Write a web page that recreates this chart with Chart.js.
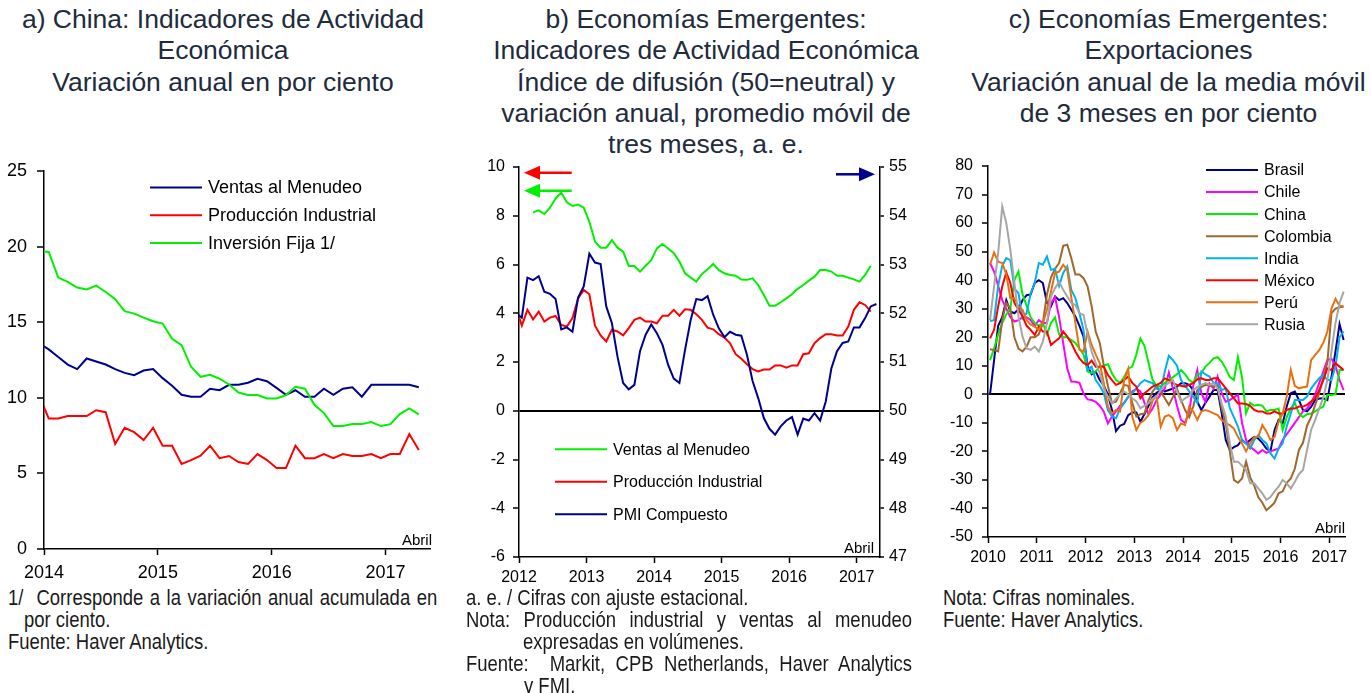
<!DOCTYPE html>
<html lang="es">
<head>
<meta charset="utf-8">
<title>China y Economías Emergentes: actividad y exportaciones</title>
<script src="https://cdn.jsdelivr.net/npm/chart.js@4.4.1/dist/chart.umd.min.js"></script>
<style>
  html, body { margin: 0; padding: 0; background: #fff; }
  body { width: 1371px; height: 693px; position: relative; overflow: hidden;
         font-family: "Liberation Sans", Arial, sans-serif; }
  canvas { position: absolute; }
  .title { position: absolute; top: 4px; text-align: center; font-size: 26.5px;
           line-height: 31.3px; color: #222b3c; white-space: nowrap; }
  .note { position: absolute; font-size: 22px; line-height: 22px; color: #1a1a1a;
          transform: scaleX(0.84); transform-origin: 0 0; white-space: nowrap; }
  .note.just { white-space: normal; text-align: justify; text-align-last: justify; }
</style>
</head>
<body>

<div class="title" style="left:0; width:446px;">a) China: Indicadores de Actividad<br>Económica<br>Variación anual en por ciento</div>
<div class="title" style="left:486px; width:440px;">b) Economías Emergentes:<br>Indicadores de Actividad Económica<br>Índice de difusión (50=neutral) y<br>variación anual, promedio móvil de<br>tres meses, a. e.</div>
<div class="title" style="left:966px; width:405px;">c) Economías Emergentes:<br>Exportaciones<br>Variación anual de la media móvil<br>de 3 meses en por ciento</div>

<canvas id="chartA" width="440" height="420" style="left:0; top:160px;"></canvas>
<canvas id="chartB" width="440" height="435" style="left:470px; top:155px;"></canvas>
<canvas id="chartC" width="441" height="415" style="left:930px; top:155px;"></canvas>

<div class="note just" style="left:8px; top:587px; width:511px;">1/&nbsp; Corresponde a la variación anual acumulada en</div>
<div class="note" style="left:24px; top:609px;">por ciento.</div>
<div class="note" style="left:8px; top:631px;">Fuente: Haver Analytics.</div>

<div class="note" style="left:466px; top:587px;">a. e. / Cifras con ajuste estacional.</div>
<div class="note just" style="left:466px; top:609px; width:531px;">Nota: Producción industrial y ventas al menudeo</div>
<div class="note" style="left:523px; top:631px;">expresadas en volúmenes.</div>
<div class="note just" style="left:466px; top:653px; width:531px;">Fuente:&nbsp; Markit, CPB Netherlands, Haver Analytics</div>
<div class="note" style="left:524px; top:675px;">y FMI.</div>

<div class="note" style="left:943px; top:587px;">Nota: Cifras nominales.</div>
<div class="note" style="left:943px; top:609px;">Fuente: Haver Analytics.</div>

<script>
// ------------------------------------------------------------
// a) China: variación anual, dic-2013 a abr-2017 (mensual)
// ------------------------------------------------------------
const A_YEARS = [2014, 2015, 2016, 2017];
const A_FIRST = [2013, 12];
const A_VENTAS = [13.6, 13.2, 12.7, 12.2, 11.9, 12.6, 12.4, 12.2, 11.9, 11.65, 11.5, 11.8, 11.9,
  11.3, 10.8, 10.2, 10.07, 10.07, 10.6, 10.5, 10.86, 10.86, 11.0, 11.26, 11.1,
  10.66, 10.2, 10.5, 10.07, 10.07, 10.6, 10.2, 10.6, 10.7, 10.07, 10.86, 10.86,
  10.86, 10.86, 10.86, 10.7];
const A_PROD = [10.1, 8.63, 8.63, 8.79, 8.79, 8.79, 9.18, 9.05, 6.94, 8.02, 7.73, 7.2, 8.02,
  6.83, 6.83, 5.62, 5.88, 6.17, 6.83, 6.01, 6.15, 5.75, 5.62, 6.28, 5.88,
  5.35, 5.35, 6.83, 6.01, 6.01, 6.28, 6.01, 6.28, 6.15, 6.15, 6.28, 6.01,
  6.28, 6.28, 7.6, 6.54];
const A_INV = [19.7, 19.65, 17.95, 17.67, 17.29, 17.16, 17.42, 17.0, 16.52, 15.73, 15.57, 15.3, 15.06,
  14.91, 13.9, 13.48, 12.05, 11.39, 11.52, 11.26, 10.88, 10.35, 10.18, 10.18, 9.96,
  9.96, 10.18, 10.73, 10.6, 9.54, 8.99, 8.13, 8.13, 8.26, 8.26, 8.39, 8.13,
  8.26, 8.92, 9.3, 8.9];

// ------------------------------------------------------------
// b) Economías emergentes: actividad (eje izq. %, eje der. índice PMI)
// ------------------------------------------------------------
const B_YEARS = [2012, 2013, 2014, 2015, 2016, 2017];
const B_FIRST_VENTAS = [2012, 3];
const B_FIRST_PROD = [2011, 12];
const B_FIRST_PMI = [2011, 12];
const B_VENTAS = [8.14, 8.22, 8.07, 8.33, 8.71, 8.95, 8.55, 8.4, 8.46, 8.33,
  7.75, 6.94, 6.69, 6.69, 7.0, 6.69, 6.53, 5.94, 5.94, 5.71, 5.95, 6.18,
  6.66, 6.84, 6.66, 6.46, 6.12, 5.64, 5.46, 5.3, 5.61, 5.8, 6.02, 5.77,
  5.64, 5.57, 5.54, 5.38, 5.37, 5.43, 5.16, 4.75, 4.31, 4.31, 4.45, 4.61,
  4.78, 5.0, 5.16, 5.34, 5.5, 5.77, 5.77, 5.71, 5.54, 5.54, 5.46, 5.39,
  5.3, 5.57, 5.95];
const B_PROD = [4.2, 3.49, 4.14, 3.75, 4.07, 3.66, 3.82, 3.89, 3.52, 3.45, 3.8, 4.61, 4.96,
  4.78, 3.49, 3.09, 2.84, 3.32, 3.25, 3.09, 3.39, 3.73, 3.82, 3.66, 3.66,
  3.59, 3.9, 3.9, 4.14, 3.9, 4.16, 4.14, 3.96, 3.73, 3.41, 3.34, 3.14,
  3.0, 2.77, 2.32, 2.13, 1.91, 1.71, 1.61, 1.69, 1.69, 1.86, 1.86, 1.77,
  1.86, 1.86, 2.32, 2.36, 2.77, 2.98, 3.14, 3.14, 3.09, 3.09, 3.45, 4.14,
  4.45, 4.34, 4.07];
const B_PMI = [52.0, 51.91, 52.73, 52.68, 52.76, 52.44, 52.40, 52.29, 51.67, 51.71, 51.62, 52.32, 52.55,
  53.22, 53.04, 53.01, 52.14, 51.80, 51.11, 50.57, 50.44, 50.53, 51.22, 51.56, 51.77,
  51.59, 51.35, 50.94, 50.66, 50.57, 51.25, 51.86, 52.29, 52.27, 52.35, 51.97, 51.69,
  51.51, 51.62, 51.56, 51.54, 51.15, 50.61, 50.26, 49.85, 49.63, 49.51, 49.68, 49.80,
  49.87, 49.51, 49.84, 49.80, 49.95, 49.80, 50.19, 50.87, 51.22, 51.39, 51.42, 51.71,
  51.71, 51.90, 52.14, 52.19];

// ------------------------------------------------------------
// c) Economías emergentes: exportaciones, ene-2010 a abr-2017
// ------------------------------------------------------------
const C_YEARS = [2010, 2011, 2012, 2013, 2014, 2015, 2016, 2017];
const C_FIRST = [2010, 1];
const C_BRASIL = [0, 12, 24, 27, 33, 29, 28.4, 29.8, 33, 34.7, 35, 39,
  40, 39, 32, 30.8, 34.3, 33, 33.7, 32, 29.6, 27.3, 24, 20.2,
  10, 7, 8, 5, 3, 0, -5.5, -12.9, -11, -10.4, -7.3, -6.4,
  -6.4, -9.6, -6.9, -4, -1, 0.5, 1.5, 1, 1.5, 2, 2.7, 3.9,
  3.9, 3.3, 1.5, -2.6, -5.5, -3, -0.8, 1.5, 1.5, -6.7, -16, -19.5,
  -18.5, -17.8, -16, -17.2, -16, -14.9, -15.5, -17, -19, -20, -12.5, -9,
  -10.2, -4.3, 0.4, 1, -2, -5.5, -6, -4.4, -2, -1.5, -1.4, -2,
  6, 15, 24.6, 19];
const C_CHILE = [46, 43, 38, 33, 30, 27, 25.5, 26, 27, 27, 26, 24,
  26, 25, 25, 32, 34, 27, 18, 9, 4.5, 4.4, 4, 0.3,
  -1.8, -2, -2.6, -4, -6.1, -10.2, -7.8, -6, -4, -3, -1, 1,
  2, 1, -3, -7, -5, -2, 0, 2, 7.6, 2, -4, -9,
  -10, -6, 3, 8.5, 0.3, -2.6, 3.8, 2, 6.2, 0.3, -2.6, -2,
  -1, -0.2, -10, -16, -18.4, -19.5, -20.7, -19.5, -20.5, -20, -19.5, -19,
  -16, -14, -12, -10, -8, -6, -5, -3, 0, 4, 8, 12,
  12.5, 10, 5, 1.5];
const C_CHINA = [12, 16, 21, 25, 28, 30, 40, 43, 35, 31, 27, 25,
  24, 25, 21, 25, 27, 21, 20, 20, 19, 18, 16, 14,
  8, 7.4, 8, 9.7, 10, 10.6, 7.4, 5, 4, 6, 9, 9.7,
  14, 19.6, 17, 11, 5, 3, 2.7, 4, 5, 6, 7, 8.5,
  7, 5, 4, 7, 7.4, 9.7, 11, 12.6, 13, 11.5, 9, 6,
  5, 13, 6, -6.7, -3, -4, -3.7, -4, -6, -5.5, -5.5, -5,
  -12.5, -8, -5, -3, -6.7, -8, -7, -6.7, -6, -5, -4.3, -0.2,
  -0.2, 0, 8.5, 8.5];
const C_COLOMBIA = [15.8, 15.5, 15, 26, 32, 30, 20, 16, 15, 16.7, 20, 20,
  21, 25, 35, 41, 44, 46, 52, 52.4, 47.7, 42, 42, 40.7,
  37.8, 30.8, 22, 18, 10, 3, -3, -2.6, 0.4, 3.3, 3, -3,
  -7.8, -7, -6.7, -2, 1, 2.7, 1, -1.4, -3.7, -1, 2, -2,
  -5.5, -8, -4.3, 1.5, 2.5, 3.3, 3, 2.7, 3.3, -5, -10, -20,
  -30, -31, -29.5, -23.6, -29, -32, -36, -38, -40.6, -39.4, -38, -34.7,
  -34, -31, -29.5, -26, -19.5, -17, -11, -8, -3.7, 0.4, 6, 11,
  28.4, 30, 30.5, 30.8];
const C_INDIA = [25.7, 26, 38, 45, 47.7, 47, 37, 35.4, 26.7, 28.4, 35.4, 39,
  46, 45.4, 48.3, 43.6, 44, 38, 42.5, 44.8, 36.6, 33.7, 28.4, 22.6,
  8.5, 9.7, 5, 3, 0.4, -5.5, -7.8, -8.4, -5, -3, -0.8, 0.4,
  2, 3.9, 5, 4.4, 3.9, 2, 1.5, 8, 13.5, 12, 10, 5,
  3, 1, -0.8, -3, 8, 7, 6.2, 4, 3.9, 1.5, 2, -4.9,
  -8, -11.3, -16, -17.2, -19, -16, -14.3, -16, -17.2, -20.7, -22.5, -19,
  -17.2, -11.3, -6.7, -2, -2, -2, -0.8, 2, 3.9, 5.6, 6.8, 5,
  5, 9.7, 20, 22];
const C_MEXICO = [19.6, 22.6, 30.8, 37.8, 42.7, 39, 32, 29.6, 27.3, 24, 22.6, 20.8,
  23.7, 22, 22, 17.3, 18.5, 19.6, 22, 20.2, 18, 15, 12.6, 11,
  10.3, 11.8, 9.7, 9.7, 9.7, 6.8, 5, 3.3, 3.9, 5, 6.2, 4,
  2.7, -1.4, 0.4, 1.5, 2.7, 3.3, 4, 5.6, 5, 3.9, 3.3, 3,
  2.7, 3.3, 3.9, 5.3, 5.6, 5, 5, 5.6, 5.6, 3.9, 2.1, 0.4,
  -1.4, -3.2, -3.2, -3.4, -4, -5.5, -6, -6, -6.7, -6.7, -6, -6.7,
  -6.7, -5.5, -5, -5, -4.3, -4.3, -3.7, -2.5, -1.4, 1.5, 5, 9.1,
  8.5, 10.9, 9.7, 8.5];
const C_PERU = [45.4, 49.7, 46.5, 46, 42, 33.7, 33.7, 30.8, 29.6, 26, 24.5, 23.7,
  22.6, 24.9, 29.6, 36, 42.5, 43, 45.4, 43.6, 34, 25, 15.6, 15,
  22, 17.3, 14, 10.9, 3.9, -4.3, -6.7, -5.5, -6, 5, 8.9, -7.8,
  -12.5, -10, -9, -7.3, -2, -0.8, -11.3, -7.8, -7.3, -8.4, -12.5, -10.2,
  -10.8, -4.3, -6, -9, -6, -5.5, -6, -6.7, -7.3, -9, -10.2, -10.8,
  -12, -14.9, -17.2, -20, -17.2, -15, -14.9, -10.8, -13, -16, -14.9, -9.6,
  -6.7, -0.8, 8.5, 3, 2.1, 2.5, 2.7, 12, 13.8, 15.5, 18, 22,
  30, 33.5, 31, 30.8];
const C_RUSIA = [26, 37.8, 49.5, 65.8, 60, 50.6, 39, 27.3, 20.2, 16.1, 15.6, 16.7,
  15, 18.5, 25, 34.3, 37.2, 39.5, 36.6, 34.3, 32, 31.3, 28.4, 27.8,
  21, 15, 11, 7.4, 2, -0.8, -3.2, -1.5, 0, 0.9, 0, -1.4,
  -2.5, -4.9, -4, -3.2, -1.5, -0.8, 1.5, 3, 4, 5, 1, -2.6,
  -1.4, -0.5, 1.5, 2.5, 3.3, 3.9, 3.3, 3.9, 2, -3.2, -7.8, -17.2,
  -23.6, -23.6, -25, -26.5, -31.2, -31.2, -33, -34.7, -37, -36, -34, -32.4,
  -30, -31.2, -33, -30.6, -28, -26.5, -19.5, -12.5, -9, -5, -1, 5,
  15, 25, 32, 36];

// ------------------------------------------------------------
const FONT = '"Liberation Sans", Arial, sans-serif';
const NAVY = '#00008f';
const RED = '#ff0000';
const GREEN = '#00f000';

// monthly values -> {x, y} points placed mid-month on a year axis
function monthly(first, values) {
  return values.map((v, i) => ({ x: first[0] + (first[1] - 1 + i + 0.5) / 12, y: v }));
}

function line(label, first, values, color, yAxisID, order) {
  return {
    label, data: monthly(first, values), yAxisID: yAxisID || 'y', order,
    borderColor: color, backgroundColor: color, borderWidth: 2,
    pointRadius: 0, tension: 0, fill: false,
  };
}

function xAxis(years, min, max, size, height, pad) {
  return {
    type: 'linear', min, max,
    afterBuildTicks: s => { s.ticks = years.map(v => ({ value: v })); },
    afterFit: s => { s.height = height; },
    ticks: { callback: v => String(v), color: '#000', font: { family: FONT, size },
             padding: pad, maxRotation: 0, autoSkip: false },
    grid: { drawOnChartArea: false, tickLength: 6, tickColor: '#000', tickWidth: 1.5 },
    border: { display: true, color: '#000', width: 1.5 },
  };
}

function yAxis(min, max, step, size, width, opts) {
  const o = opts || {};
  return {
    type: 'linear', position: o.right ? 'right' : 'left', min, max,
    // fixed width, and no extra room above/below for the end labels
    afterFit: s => { s.width = width; s.paddingTop = 0; s.paddingBottom = 0; },
    ticks: { stepSize: step, color: '#000', font: { family: FONT, size }, padding: o.pad || 8 },
    grid: {
      drawOnChartArea: !!o.zeroLine,
      color: c => (o.zeroLine && c.tick && c.tick.value === 0 ? '#000' : 'rgba(0,0,0,0)'),
      lineWidth: 2,
      tickLength: o.tick || 6, tickColor: '#000', tickWidth: 1.5,
    },
    border: { display: true, color: '#000', width: 1.5 },
  };
}

// legend drawn inside the plot area
const inlineLegend = {
  id: 'inlineLegend',
  afterDraw(chart, _args, opts) {
    if (!opts || !opts.rows) return;
    const { ctx, chartArea: area } = chart;
    const sets = chart.data.datasets;
    ctx.save();
    ctx.font = opts.size + 'px ' + FONT;
    ctx.textBaseline = 'middle';
    ctx.textAlign = 'left';
    opts.rows.forEach((idx, i) => {
      const ds = sets[idx];
      const x = area.left + opts.left;
      const y = area.top + opts.top + i * opts.step;
      ctx.strokeStyle = ds.borderColor;
      ctx.lineWidth = 2;
      ctx.beginPath();
      ctx.moveTo(x, y);
      ctx.lineTo(x + opts.len, y);
      ctx.stroke();
      ctx.fillStyle = '#000';
      ctx.fillText(ds.label, x + opts.len + opts.gap, y + 1);
    });
    ctx.restore();
  }
};

// "Abril" tag and axis arrows
const panelMarks = {
  id: 'panelMarks',
  afterDraw(chart, _args, opts) {
    if (!opts) return;
    const { ctx, chartArea: area } = chart;
    ctx.save();
    if (opts.tag) {
      ctx.font = '15px ' + FONT;
      ctx.fillStyle = '#000';
      ctx.textAlign = 'right';
      ctx.textBaseline = 'alphabetic';
      ctx.fillText(opts.tag, area.right + (opts.tagDx || 0), area.bottom - 4);
    }
    (opts.arrows || []).forEach(a => {
      const y = area.top + a.y;
      const x0 = area.left + a.from, x1 = area.left + a.to;
      const dir = Math.sign(x1 - x0);
      ctx.strokeStyle = a.color;
      ctx.fillStyle = a.color;
      ctx.lineWidth = 2.5;
      ctx.beginPath();
      ctx.moveTo(x0, y);
      ctx.lineTo(x1 - dir * 12, y);
      ctx.stroke();
      ctx.beginPath();
      ctx.moveTo(x1, y);
      ctx.lineTo(x1 - dir * 16, y - 7);
      ctx.lineTo(x1 - dir * 16, y + 7);
      ctx.closePath();
      ctx.fill();
    });
    ctx.restore();
  }
};

Chart.register(inlineLegend, panelMarks);

const common = {
  responsive: false,
  animation: false,
  events: [],
};

// ---- chart a ----
new Chart(document.getElementById('chartA'), {
  type: 'line',
  data: {
    datasets: [
      line('Ventas al Menudeo', A_FIRST, A_VENTAS, NAVY, 'y', 3),
      line('Producción Industrial', A_FIRST, A_PROD, RED, 'y', 2),
      line('Inversión Fija 1/', A_FIRST, A_INV, GREEN, 'y', 1),
    ],
  },
  options: {
    ...common,
    layout: { padding: { top: 11, right: 10, left: 0, bottom: 0 } },
    scales: {
      x: xAxis(A_YEARS, 2014, 2017.39, 18, 31, 7),
      y: yAxis(0, 25, 5, 18, 44, { pad: 10, tick: 7 }),
    },
    plugins: {
      legend: { display: false },
      tooltip: { enabled: false },
      inlineLegend: { rows: [0, 1, 2], left: 106, top: 16.5, step: 27.7, len: 52, gap: 6, size: 18 },
      panelMarks: { tag: 'Abril', tagDx: 2 },
    },
  },
});

// ---- chart b ----
new Chart(document.getElementById('chartB'), {
  type: 'line',
  data: {
    datasets: [
      line('Ventas al Menudeo', B_FIRST_VENTAS, B_VENTAS, GREEN, 'y', 3),
      line('Producción Industrial', B_FIRST_PROD, B_PROD, RED, 'y', 2),
      line('PMI Compuesto', B_FIRST_PMI, B_PMI, NAVY, 'y2', 1),
    ],
  },
  options: {
    ...common,
    layout: { padding: { top: 12, right: 0, left: 0, bottom: 0 } },
    scales: {
      x: xAxis(B_YEARS, 2012, 2017.345, 16, 33, 5),
      y: yAxis(-6, 10, 2, 16, 49, { zeroLine: true }),
      y2: yAxis(47, 55, 1, 16, 30, { right: true, tick: 4, pad: 5 }),
    },
    plugins: {
      legend: { display: false },
      tooltip: { enabled: false },
      inlineLegend: { rows: [0, 1, 2], left: 36, top: 282.3, step: 32.5, len: 52, gap: 6, size: 16 },
      panelMarks: {
        tag: 'Abril', tagDx: -6,
        arrows: [
          { color: RED, y: 5.7, from: 52.7, to: 5 },
          { color: GREEN, y: 23.7, from: 52.7, to: 5 },
          { color: NAVY, y: 7.3, from: 317, to: 356 },
        ],
      },
    },
  },
});

// ---- chart c ----
const C_SERIES = [
  ['Brasil', C_BRASIL, '#00008f'],
  ['Chile', C_CHILE, '#ff00ff'],
  ['China', C_CHINA, '#00f000'],
  ['Colombia', C_COLOMBIA, '#a0672d'],
  ['India', C_INDIA, '#00b0f0'],
  ['México', C_MEXICO, '#ff0000'],
  ['Perú', C_PERU, '#e8700e'],
  ['Rusia', C_RUSIA, '#a6a6a6'],
];

new Chart(document.getElementById('chartC'), {
  type: 'line',
  data: {
    datasets: C_SERIES.map((s, i) => line(s[0], C_FIRST, s[1], s[2], 'y', C_SERIES.length - i)),
  },
  options: {
    ...common,
    layout: { padding: { top: 11, right: 26, left: 0, bottom: 0 } },
    scales: {
      x: xAxis(C_YEARS, 2010, 2017.32, 16, 33, 5),
      y: yAxis(-50, 80, 10, 16, 58, { zeroLine: true, pad: 9 }),
    },
    plugins: {
      legend: { display: false },
      tooltip: { enabled: false },
      inlineLegend: { rows: [0, 1, 2, 3, 4, 5, 6, 7], left: 218, top: 4, step: 22.05, len: 52, gap: 6, size: 16 },
      panelMarks: { tag: 'Abril', tagDx: 0 },
    },
  },
});
</script>
</body>
</html>
